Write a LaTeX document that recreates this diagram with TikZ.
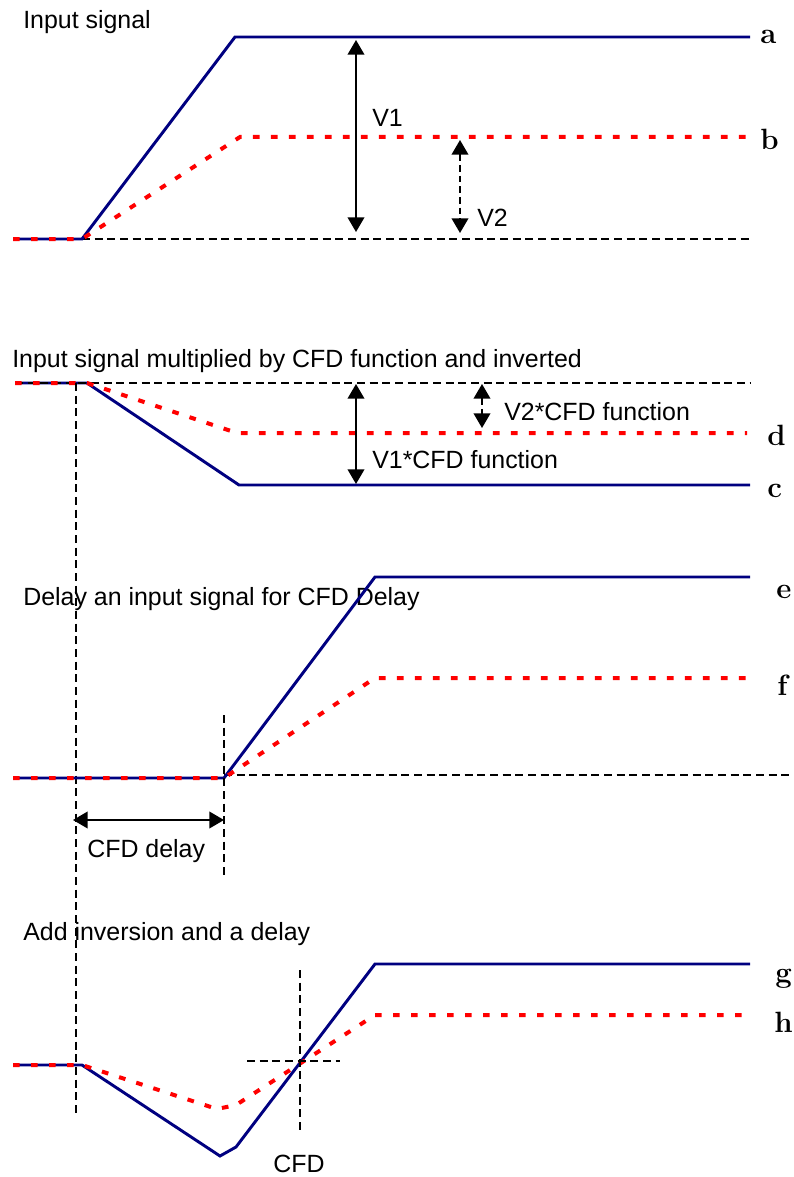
\documentclass[tikz,border=0pt]{standalone}
\usepackage{fontspec}
\setsansfont{Liberation Sans}
\usepackage{tikz}
\usetikzlibrary{arrows.meta}
\definecolor{pulseblue}{RGB}{0,0,128}
\tikzstyle{pulse} = [draw=pulseblue, line width=2.2pt]
\tikzstyle{share} = [draw=red, line width=3pt, dash pattern=on 5pt off 8.5pt]
\tikzstyle{level} = [draw=black, line width=1.1pt, dash pattern=on 6pt off 3.5pt]
\tikzstyle{arrow} = [line width=1.3pt, <->, >={Triangle[length=11pt,width=12.5pt]}]
\tikzstyle{dasharrow} = [arrow, dash pattern=on 5pt off 3pt]
\tikzstyle{caption} = [anchor=base west, inner sep=0pt, font=\sffamily\fontsize{18.7}{22}\selectfont]
\tikzstyle{tag} = [anchor=base west, inner sep=0pt, font=\rmfamily\bfseries\fontsize{22}{24}\selectfont]

\begin{document}
\begin{tikzpicture}[x=0.75pt, y=-0.75pt]
        \useasboundingbox (0,0) rectangle (793,1177);

        % input signal
        \node (title1) [caption] at (23,29) {Input signal};
        \draw [level] (82,239) -- (750,239);
        \draw [pulse] (13,239) -- (82,239) -- (235,37) -- (750,37);
        \draw [share] (13,239) -- (82,239) -- (240,137) -- (747,137);
        \node (a) [tag] at (760,44) {a};
        \node (b) [tag] at (760,150) {b};
        \coordinate (v1top) at (356,40);
        \coordinate (v1bot) at (356,232);
        \coordinate (v2top) at (460,140);
        \coordinate (v2bot) at (460,233);
        \draw [arrow] (v1top) -- (v1bot);
        \draw [dasharrow] (v2top) -- (v2bot);
        \node (v1) [caption] at (372,127) {V1};
        \node (v2) [caption] at (477,226) {V2};

        % multiplied and inverted
        \node (title2) [caption] at (12,367) {Input signal multiplied by CFD function and inverted};
        \draw [pulse] (15,383) -- (87,383) -- (239,485) -- (750,485);
        \draw [level] (15,383) -- (750,383);
        \draw [share] (15,383) -- (87,383) -- (237,433) -- (747,433);
        \node (c) [tag] at (767,497) {c};
        \node (d) [tag] at (767,445) {d};
        \coordinate (m1top) at (356,384);
        \coordinate (m1bot) at (356,484);
        \coordinate (m2top) at (482,384);
        \coordinate (m2bot) at (482,428);
        \draw [arrow] (m1top) -- (m1bot);
        \draw [dasharrow] (m2top) -- (m2bot);
        \node (m1) [caption] at (372,468) {V1*CFD function};
        \node (m2) [caption] at (504,420) {V2*CFD function};

        % start marker
        \coordinate (mark1) at (76,383);
        \coordinate (mark2) at (76,1117);
        \draw [level] (mark1) -- (mark2);

        % delayed
        \node (title3) [caption] at (23,605) {Delay an input signal for CFD Delay};
        \draw [level] (224,775) -- (790,775);
        \draw [pulse] (13,778) -- (224,778) -- (375,577) -- (750,577);
        \draw [share] (13,778) -- (224,778) -- (375,678) -- (747,678);
        \node (e) [tag] at (776,598) {e};
        \node (f) [tag] at (777,695) {f};
        \coordinate (delay1) at (224,715);
        \coordinate (delay2) at (224,878);
        \draw [level] (delay1) -- (delay2);
        \coordinate (dleft) at (73,820);
        \coordinate (dright) at (224,820);
        \draw [arrow] (dleft) -- (dright);
        \node (cfddelay) [caption] at (87,857) {CFD delay};

        % sum
        \node (title4) [caption] at (23,940) {Add inversion and a delay};
        \draw [pulse] (13,1065) -- (82,1065) -- (220,1156) -- (236,1147) -- (375,964) -- (750,964);
        \draw [share] (13,1065) -- (82,1065) -- (217,1109) -- (236,1105) -- (375,1015) -- (747,1015);
        \node (g) [tag] at (775,982) {g};
        \node (h) [tag] at (774,1032) {h};
        \coordinate (cross1) at (247,1061);
        \coordinate (cross2) at (340,1061);
        \coordinate (cross3) at (300,970);
        \coordinate (cross4) at (300,1132);
        \draw [level] (cross1) -- (cross2);
        \draw [level] (cross3) -- (cross4);
        \node (cfd) [caption] at (273,1172) {CFD};
    \end{tikzpicture}
\end{document}
